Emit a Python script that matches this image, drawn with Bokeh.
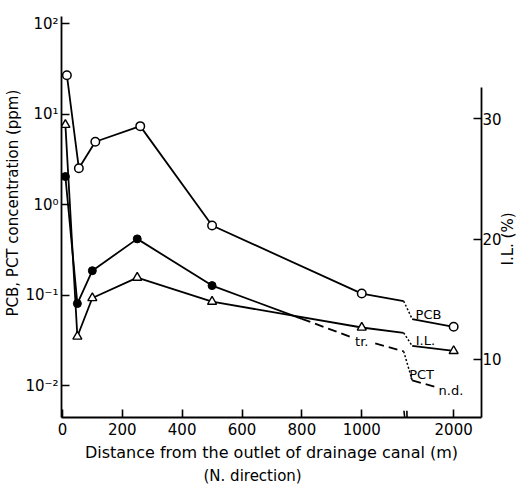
import math
from bokeh.plotting import figure
from bokeh.models import (Range1d, LinearAxis, LinearScale, FixedTicker,
                          CustomJSTickFormatter, Label, Title)
from bokeh.embed import file_html
from bokeh.resources import INLINE

# ---------------- data ----------------
# distance from the outlet of the drainage canal (m)
pcb_dist = [15, 55, 110, 260, 500, 1000, 2000]
pcb_ppm = [27.0, 2.53, 4.97, 7.39, 0.59, 0.1045, 0.0449]

pct_dist = [10, 50, 100, 250, 500]
pct_ppm = [2.05, 0.081, 0.187, 0.42, 0.128]

il_dist = [10, 50, 100, 250, 500, 1000, 2000]
il_pct = [29.5, 11.9, 15.1, 16.8, 14.8, 12.65, 10.7]

# PCT trend beyond last detection (solid, then dashed toward "tr." and "n.d.")
pct_tail_solid_dist = [500, 800]
pct_tail_solid_ppm = [0.128, 0.055]
pct_tail_dash_dist = [800, 960]
pct_tail_dash_ppm = [0.055, 0.035]
pct_after_tr_dist = [1045, 1140]
pct_after_tr_ppm = [0.0294, 0.024]
pct_after_break_dist = [1250, 1680]
pct_after_break_ppm = [0.0115, 0.0097]

# values where the lines meet the axis break (left edge / right edge)
break_left_dist, break_right_dist = 1140, 1250
pcb_break = [0.0863, 0.0547]
il_break = [12.21, 11.12]
pct_break = [0.024, 0.0115]

x_tick_values = [0, 200, 400, 600, 800, 1000, 2000]
x_tick_labels = ["0", "200", "400", "600", "800", "1000", "2000"]
y_tick_values = [0.01, 0.1, 1, 10, 100]
il_tick_values = [10, 20, 30]

# axis break: distances above BREAK_AT are compressed
BREAK_AT = 1150
BREAK_DATA_SPAN = 850
BREAK_DISPLAY_SPAN = 157


def to_axis(d):
    if d <= BREAK_AT:
        return d
    return BREAK_AT + (d - BREAK_AT) * BREAK_DISPLAY_SPAN / BREAK_DATA_SPAN


def tx(ds):
    return [to_axis(d) for d in ds]


FONT = "DejaVu Sans"
LW = 1.8

p = figure(width=529, height=485,
           x_range=Range1d(-3, 1400),
           y_range=Range1d(10 ** -2.35, 10 ** 2.08),
           y_axis_type="log",
           output_backend="svg", toolbar_location=None,
           min_border_left=61, min_border_right=47,
           min_border_top=16, min_border_bottom=67)
p.title = None
p.outline_line_color = None
p.xgrid.visible = False
p.ygrid.visible = False
p.background_fill_color = "white"
p.border_fill_color = "white"

p.extra_y_ranges = {"il": Range1d(5.17, 38.5)}
p.extra_y_scales = {"il": LinearScale()}


def style_axis(ax, standoff):
    ax.axis_line_width = 1.8
    ax.axis_line_color = "black"
    ax.major_tick_in = 8
    ax.major_tick_out = 0
    ax.major_tick_line_width = 1.6
    ax.minor_tick_in = 0
    ax.minor_tick_out = 0
    ax.major_label_text_font = FONT
    ax.major_label_text_font_size = "15px"
    ax.major_label_text_color = "black"
    ax.major_label_standoff = standoff
    ax.axis_label_text_font = FONT
    ax.axis_label_text_font_style = "normal"
    ax.axis_label_text_font_size = "15px"
    ax.axis_label_text_color = "black"


# bottom axis
xax = p.xaxis[0]
xax.ticker = FixedTicker(ticks=tx(x_tick_values))
xax.formatter = CustomJSTickFormatter(
    args=dict(pos=tx(x_tick_values), lab=x_tick_labels),
    code="""
    let best = 0;
    for (let i = 1; i < pos.length; i++) {
        if (Math.abs(pos[i] - tick) < Math.abs(pos[best] - tick)) best = i;
    }
    return lab[best];
    """)
style_axis(xax, 5)
xax.axis_label = "Distance from the outlet of drainage canal (m)"
xax.axis_label_text_font_size = "16px"
xax.axis_label_standoff = 5

# left log axis
yax = p.yaxis[0]
yax.ticker = FixedTicker(ticks=y_tick_values)
yax.formatter = CustomJSTickFormatter(code="""
    const sup = {"-": "\u207b", "0": "\u2070", "1": "\u00b9", "2": "\u00b2",
                 "3": "\u00b3", "4": "\u2074", "5": "\u2075"};
    const e = Math.round(Math.log10(tick));
    return "10" + String(e).split("").map(c => sup[c]).join("");
    """)
style_axis(yax, 3)

# right linear axis for I.L.
rax = LinearAxis(y_range_name="il", ticker=FixedTicker(ticks=il_tick_values),
                 bounds=(5.17, 32.6))
style_axis(rax, 1)
p.add_layout(rax, "right")

# right-hand title "I.L. (%)", read bottom-to-top, placed as the single
# label of a line-less outer axis so that its height can be set
IL_TITLE = "I.L. (%)"
IL_TITLE_AT = 17.8  # I.L. value where the title starts
rtitle = LinearAxis(y_range_name="il", ticker=FixedTicker(ticks=[IL_TITLE_AT]),
                    formatter=CustomJSTickFormatter(args=dict(t=IL_TITLE),
                                                    code="return t"))
rtitle.axis_line_color = None
rtitle.major_tick_line_color = None
rtitle.minor_tick_line_color = None
rtitle.major_tick_in = 0
rtitle.major_tick_out = 0
rtitle.major_label_standoff = 4
rtitle.major_label_orientation = math.pi / 2
rtitle.major_label_text_font = FONT
rtitle.major_label_text_font_size = "15px"
rtitle.major_label_text_color = "black"
p.add_layout(rtitle, "right")

# axis titles placed with an offset along their side
title_style = dict(text_font=FONT, text_font_size="15px", text_font_style="normal",
                   text_color="black", align="left")
p.add_layout(Title(text="PCB, PCT concentration (ppm)", offset=101, standoff=2,
                   **title_style), "left")
p.add_layout(Title(text="(N. direction)", offset=142, standoff=1,
                   **title_style), "below")

# ---------------- lines ----------------
solid = dict(line_color="black", line_width=LW)
dotted = dict(line_color="black", line_width=1.5, line_dash="2 2")
dashed = dict(line_color="black", line_width=LW, line_dash="9 5")

# PCB
p.line(tx(pcb_dist[:6] + [break_left_dist]), pcb_ppm[:6] + [pcb_break[0]], **solid)
p.line(tx([break_left_dist, break_right_dist]), pcb_break, **dotted)
p.line(tx([break_right_dist, pcb_dist[6]]), [pcb_break[1], pcb_ppm[6]], **solid)

# PCT
p.line(tx(pct_dist), pct_ppm, **solid)
p.line(tx(pct_tail_solid_dist), pct_tail_solid_ppm, **solid)
p.line(tx(pct_tail_dash_dist), pct_tail_dash_ppm, **dashed)
p.line(tx(pct_after_tr_dist), pct_after_tr_ppm, **dashed)
p.line(tx([break_left_dist, break_right_dist]), pct_break, **dotted)
p.line(tx(pct_after_break_dist), pct_after_break_ppm, **dashed)

# I.L.
p.line(tx(il_dist[:6] + [break_left_dist]), il_pct[:6] + [il_break[0]],
       y_range_name="il", **solid)
p.line(tx([break_left_dist, break_right_dist]), il_break, y_range_name="il", **dotted)
p.line(tx([break_right_dist, il_dist[6]]), [il_break[1], il_pct[6]],
       y_range_name="il", **solid)

# break mark on the x axis
p.segment(x0=[to_axis(1141), to_axis(1154)], y0=[0.0053, 0.0053],
          x1=[to_axis(1145), to_axis(1158)], y1=[0.004, 0.004],
          line_color="black", line_width=1.6)

# ---------------- markers ----------------
p.scatter(tx(pcb_dist), pcb_ppm, marker="circle", size=8.5,
          fill_color="white", line_color="black", line_width=1.5)
p.scatter(tx(pct_dist), pct_ppm, marker="circle", size=8,
          fill_color="black", line_color="black", line_width=1.0)
p.scatter(tx(il_dist), il_pct, marker="triangle", size=9,
          fill_color="white", line_color="black", line_width=1.4,
          y_range_name="il")

# ---------------- in-plot texts ----------------
small = dict(text_font=FONT, text_font_size="13px", text_color="black",
             text_align="center", text_baseline="middle")
p.add_layout(Label(x=to_axis(1545), y=0.0612, text="PCB", **small))
p.add_layout(Label(x=to_axis(1490), y=11.57, y_range_name="il", text="I.L.", **small))
p.add_layout(Label(x=to_axis(1420), y=0.0134, text="PCT", **small))
p.add_layout(Label(x=to_axis(1000), y=0.0309, text="tr.", **small))
p.add_layout(Label(x=to_axis(1950), y=0.0089, text="n.d.", **small))

open("out.html", "w").write(file_html(p, INLINE))
